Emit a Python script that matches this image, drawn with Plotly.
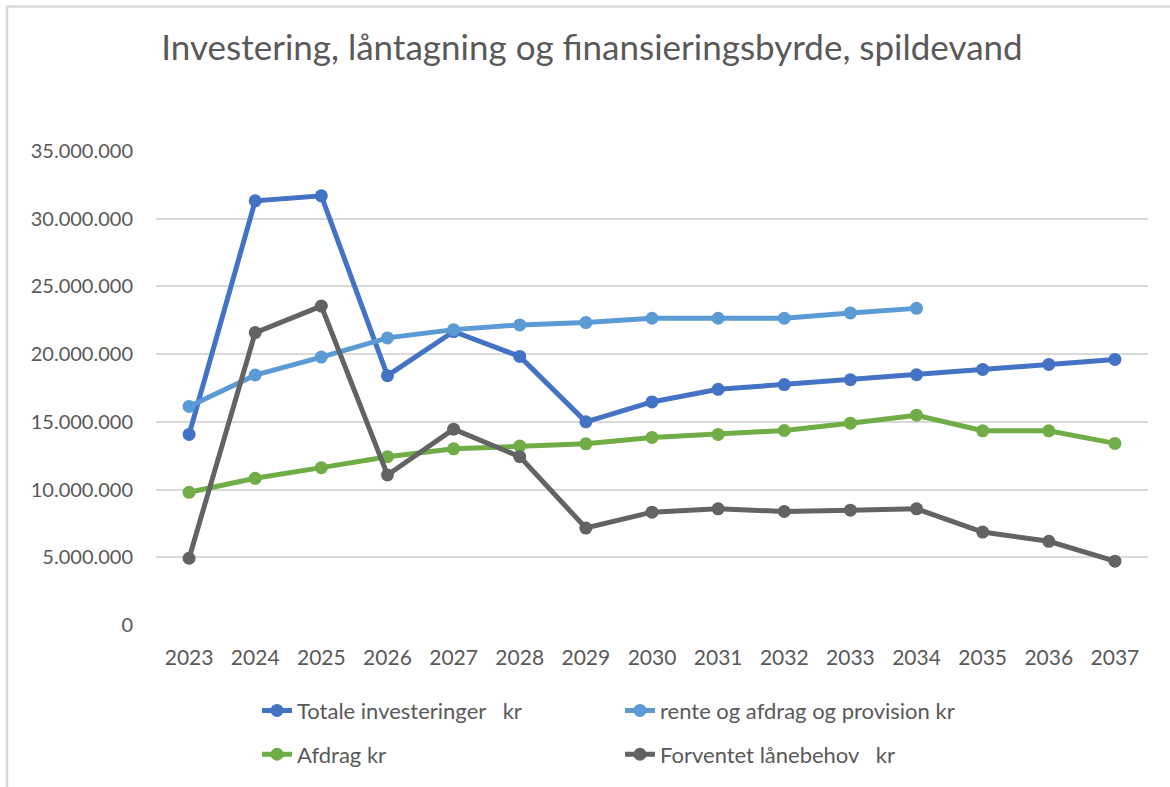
import plotly.graph_objects as go

years = ["2023", "2024", "2025", "2026", "2027", "2028", "2029", "2030",
         "2031", "2032", "2033", "2034", "2035", "2036", "2037"]

totale_investeringer = [14.07e6, 31.32e6, 31.69e6, 18.41e6, 21.67e6, 19.83e6, 15.0e6, 16.47e6,
                        17.40e6, 17.75e6, 18.11e6, 18.48e6, 18.87e6, 19.24e6, 19.61e6]
rente_afdrag_provision = [16.14e6, 18.46e6, 19.78e6, 21.2e6, 21.81e6, 22.16e6, 22.33e6, 22.65e6,
                          22.65e6, 22.65e6, 23.04e6, 23.38e6, None, None, None]
afdrag = [9.80e6, 10.83e6, 11.62e6, 12.43e6, 13.01e6, 13.21e6, 13.38e6, 13.85e6,
          14.07e6, 14.36e6, 14.90e6, 15.49e6, 14.34e6, 14.34e6, 13.41e6]
forventet_laanebehov = [4.93e6, 21.59e6, 23.55e6, 11.08e6, 14.46e6, 12.43e6, 7.16e6, 8.33e6,
                        8.58e6, 8.38e6, 8.48e6, 8.58e6, 6.86e6, 6.18e6, 4.71e6]

names = ["Totale investeringer\u00a0\u00a0\u00a0kr", "rente og afdrag og provision kr",
         "Afdrag kr", "Forventet lånebehov\u00a0\u00a0\u00a0kr"]
colors = ["#4472C4", "#5B9BD5", "#70AD47", "#636363"]
series = [totale_investeringer, rente_afdrag_provision, afdrag, forventet_laanebehov]
legends = ["legend", "legend", "legend2", "legend2"]

FONT = "Lato"
TXT = "#595959"

fig = go.Figure()
for name, col, vals, lg in zip(names, colors, series, legends):
    fig.add_trace(go.Scatter(
        x=years, y=vals, name=name, mode="lines+markers",
        line=dict(color=col, width=5),
        marker=dict(color=col, size=13),
        legend=lg, connectgaps=False,
    ))

L, R, T, B = 156, 22, 151, 160
W, H = 1170, 787
pw, ph = W - L - R, H - T - B

def px_x(x):
    return (x - L) / pw

def px_y(y):
    return (H - B - y) / ph

legend_common = dict(
    orientation="h", xanchor="left", yanchor="middle",
    font=dict(family=FONT, size=22, color=TXT),
    entrywidth=318, entrywidthmode="pixels",
    bgcolor="rgba(0,0,0,0)", borderwidth=0, itemclick=False,
)

fig.update_layout(
    width=W, height=H,
    margin=dict(l=L, r=R, t=T, b=B),
    paper_bgcolor="white", plot_bgcolor="white",
    separators=",.",
    title=dict(text="Investering, låntagning og finansieringsbyrde, spildevand",
               x=px_x(592), xanchor="center", xref="paper", y=1 - 48 / H, yanchor="middle",
               font=dict(family=FONT, size=35, color=TXT)),
    legend=dict(x=px_x(257), y=px_y(713), **legend_common),
    legend2=dict(x=px_x(257), y=px_y(757), **legend_common),
    xaxis=dict(type="category", range=[-0.5, 14.5], showgrid=False, zeroline=False,
               showline=False, ticks="", ticklabelstandoff=18,
               tickfont=dict(family=FONT, size=21, color=TXT)),
    yaxis=dict(range=[0, 35e6], dtick=5e6, tick0=0, tickformat=",d",
               showgrid=True, gridcolor="#d9d9d9", gridwidth=1.5,
               zeroline=False, showline=False, ticks="", ticklabelstandoff=22,
               tickfont=dict(family=FONT, size=20, color=TXT)),
    shapes=[dict(type="rect", xref="paper", yref="paper",
                 x0=px_x(7), x1=px_x(1200), y0=px_y(820), y1=px_y(6),
                 line=dict(color="#d9d9d9", width=2.5), fillcolor="rgba(0,0,0,0)",
                 layer="below")],
)

fig.write_html("out.html", config={"displayModeBar": False},
               post_script="document.body.style.margin='0px';")
